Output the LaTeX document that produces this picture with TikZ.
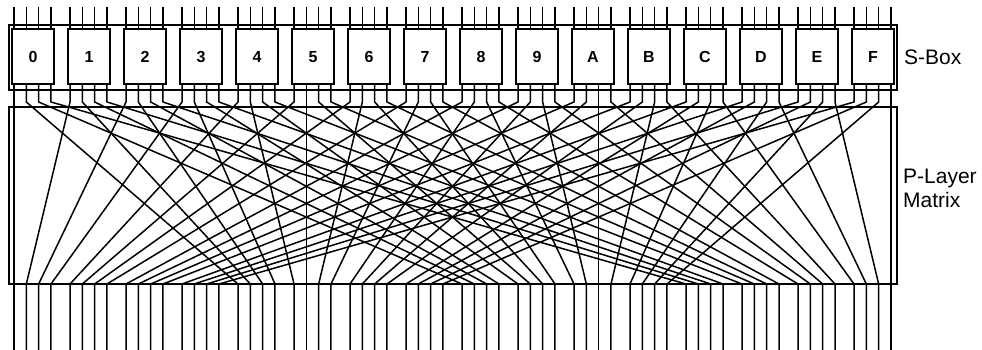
\documentclass[tikz,border=0pt]{standalone}
\usepackage{fontspec}
\setmainfont{Liberation Sans}
\begin{document}
\begin{tikzpicture}[x=1pt,y=-1pt,
  frame/.style={draw, line width=1.5pt, inner sep=0pt},
  sboxnode/.style={draw, line width=1.5pt, inner sep=0pt, minimum width=42pt, minimum height=55pt, text height=11.5pt, text depth=0pt, font=\fontsize{16}{18}\selectfont\bfseries},
  wire/.style={line width=1.5pt, line join=round},
  lbl/.style={font=\fontsize{21}{24}\selectfont, anchor=west, align=left, inner sep=0pt}]
\useasboundingbox (0,0) rectangle (982,350);
\node[frame, minimum width=888pt, minimum height=65pt] (sboxframe) at (453,57.5) {};
\node[frame, minimum width=888pt, minimum height=177pt] (player) at (453,195.5) {};
\foreach \t [count=\c from 0] in {0,1,2,3,4,5,6,7,8,9,A,B,C,D,E,F}{
  \pgfmathsetmacro\cx{33+56*\c}
  \node[sboxnode] (s\c) at (\cx,56.5) {\t};
}
\foreach \i in {0,...,63}{
  \pgfmathtruncatemacro\j{int(\i/4)}
  \pgfmathtruncatemacro\k{\i-4*\j}
  \pgfmathsetmacro\xi{14+56*\j+12.33*\k}
  \pgfmathtruncatemacro\p{\i==63 ? 63 : mod(16*\i,63)}
  \pgfmathtruncatemacro\jo{int(\p/4)}
  \pgfmathtruncatemacro\ko{\p-4*\jo}
  \pgfmathsetmacro\xo{14+56*\jo+12.33*\ko}
  \coordinate (in\i) at (\xi,7);
  \coordinate (ti\i) at (\xi,29);
  \coordinate (bo\i) at (\xi,84);
  \coordinate (bend\i) at (\xi,102);
  \coordinate (pe\p) at (\xo,284);
  \coordinate (out\p) at (\xo,350);
  \draw[wire] (in\i) -- (ti\i);
  \draw[wire] (bo\i) -- (bend\i) -- (pe\p) -- (out\p);
}
\node[lbl] (sboxlabel) at (904,57) {S-Box};
\node[lbl] (playerlabel) at (903,188) {P-Layer\\Matrix};
\end{tikzpicture}
\end{document}
